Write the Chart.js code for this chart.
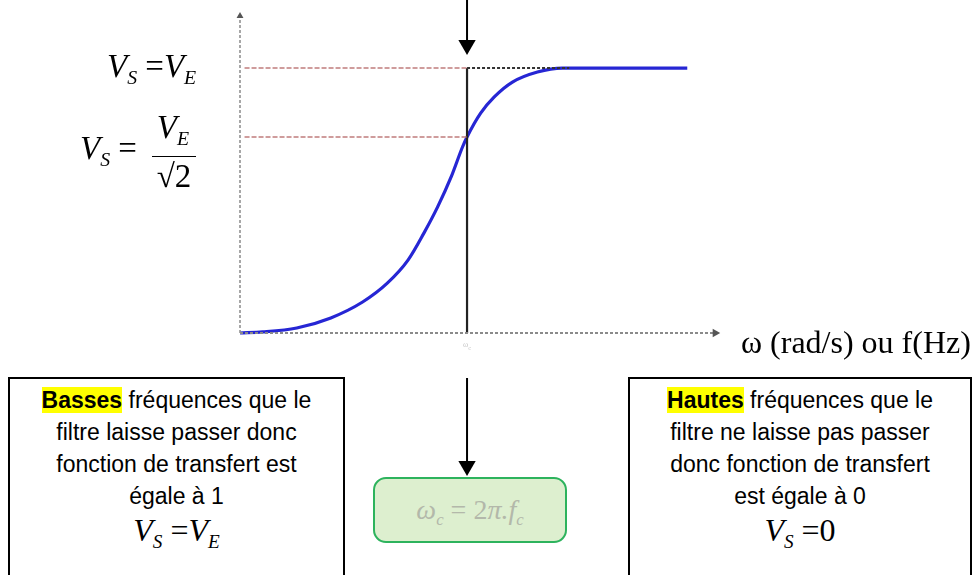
<!DOCTYPE html>
<html>
<head>
<meta charset="utf-8">
<script src="https://cdn.jsdelivr.net/npm/chart.js"></script>
<style>
  body { margin: 0; background: #fff; }
  #wrap { position: relative; width: 978px; height: 575px; overflow: hidden; }
  #wrap canvas { position: absolute; left: 0; top: 0; }
  .math { position: absolute; font-family: "Liberation Serif", "Times New Roman", serif; font-style: italic; color: #000; white-space: nowrap; }
  .math sub { font-size: 0.6em; vertical-align: -0.35em; }
  .math .up { font-style: normal; }
  .box { position: absolute; border: 2px solid #000; background: #fff; text-align: center;
         font-family: "Liberation Sans Narrow", "Liberation Sans", sans-serif; font-size: 23px; line-height: 32px; }
  .hl { background: #ffff00; font-weight: bold; }
  .box .math { position: static; display: block; font-size: 32px; line-height: 36px; margin-top: 0px; }
  #wc { position: absolute; left: 373px; top: 477px; width: 190px; height: 62px; border: 2px solid #2db35d;
        border-radius: 13px; background: #ddefcf; }
  #wc .math { position: static; display: block; text-align: center; color: #b3b8aa; font-size: 28px; line-height: 62px; }
</style>
</head>
<body>
<div id="wrap">
  <canvas id="filtre" width="978" height="575"></canvas>

  <div class="math" style="left:107px; top:48px; font-size:33px;">V<sub>S</sub> <span class="up">=</span>V<sub>E</sub></div>
  <div class="math" style="left:80px; top:130px; font-size:33px;">V<sub>S</sub> <span class="up">=</span></div>
  <div class="math" style="left:150px; top:109px; font-size:33px; text-align:center;">
    <div style="line-height:36px;">V<sub>E</sub></div>
    <div style="border-top:1.5px solid #000; width:44px; margin-left:2px; line-height:38px; font-style:normal;">&radic;2</div>
  </div>
  <div style="position:absolute; left:463px; top:340px; font:8px 'Liberation Serif', serif; color:#c8c8c8;">&omega;<sub>c</sub></div>
  <div style="position:absolute; left:741px; top:324px; font:32px 'Liberation Serif', 'Times New Roman', serif; color:#000; white-space:nowrap;">&omega; (rad/s) ou f(Hz)</div>

  <div class="box" style="left:8px; top:377px; width:333px; height:220px;">
    <div style="margin-top:5px;"><span class="hl">Basses</span> fréquences que le</div>
    <div>filtre laisse passer donc</div>
    <div>fonction de transfert est</div>
    <div>égale à 1</div>
    <div class="math">V<sub>S</sub> <span class="up">=</span>V<sub>E</sub></div>
  </div>
  <div class="box" style="left:628px; top:377px; width:340px; height:220px;">
    <div style="margin-top:5px;"><span class="hl">Hautes</span> fréquences que le</div>
    <div>filtre ne laisse pas passer</div>
    <div>donc fonction de transfert</div>
    <div>est égale à 0</div>
    <div class="math">V<sub>S</sub> <span class="up">=</span><span class="up">0</span></div>
  </div>
  <div id="wc"><div class="math">&omega;<sub>c</sub> <span class="up">=</span> <span class="up">2</span>&pi;.f<sub>c</sub></div></div>
</div>

<script>
  // courbe : x en unités de wc, y en unités de VE
  const curveX = [0, 0.10, 0.25, 0.40, 0.54, 0.65, 0.74, 0.81, 0.87, 0.93, 0.98, 1.00, 1.06, 1.12, 1.20, 1.31, 1.42, 1.97];
  const curveY = [0, 0.004, 0.019, 0.057, 0.117, 0.189, 0.275, 0.377, 0.475, 0.589, 0.702, 0.740, 0.830, 0.891, 0.947, 0.985, 1.0, 1.0];

  const cutoff = 1;           // wc
  const levelPass = 1;        // VS = VE
  const levelCut = 0.74;      // VS = VE / sqrt(2), as drawn
  const xMax = 2.123;
  const yMin = -0.5547;
  const yMax = 1.219;

  const pts = (xs, ys) => xs.map((x, i) => ({ x: x, y: ys[i] }));

  const line = (data, opts) => Object.assign({
    data: data, showLine: true, fill: false, clip: false,
    pointRadius: 0, borderWidth: 1.5, tension: 0
  }, opts);

  new Chart(document.getElementById("filtre"), {
    type: "scatter",
    data: {
      datasets: [
        // axes
        line(pts([0, 0], [0, 1.196]), { borderColor: "#8a8a8a", borderDash: [3, 2], pointRadius: [0, 4],
          pointStyle: "triangle", pointBackgroundColor: "#555", pointBorderWidth: 0 }),
        line(pts([0, 2.093], [0, 0]), { borderColor: "#8a8a8a", borderDash: [3, 2], borderWidth: 2, pointRadius: [0, 5],
          pointStyle: "triangle", rotation: 90, pointBackgroundColor: "#555", pointBorderWidth: 0 }),
        // niveaux
        line(pts([0.02, cutoff], [levelPass, levelPass]), { borderColor: "#c07c7c", borderDash: [5, 2] }),
        line(pts([0.02, cutoff], [levelCut, levelCut]), { borderColor: "#c07c7c", borderDash: [5, 2] }),
        line(pts([cutoff, 1.45], [levelPass, levelPass]), { borderColor: "#333", borderDash: [3, 2], borderWidth: 2 }),
        line(pts([cutoff, cutoff], [0, levelPass]), { borderColor: "#222", borderWidth: 2.2 }),
        // flèches verticales
        line(pts([cutoff, cutoff], [1.257, 1.087]), { borderColor: "#000", borderWidth: 2, pointRadius: [0, 10],
          pointStyle: "triangle", rotation: 180, pointBackgroundColor: "#000", pointBorderWidth: 0 }),
        line(pts([cutoff, cutoff], [-0.170, -0.502]), { borderColor: "#000", borderWidth: 2, pointRadius: [0, 10],
          pointStyle: "triangle", rotation: 180, pointBackgroundColor: "#000", pointBorderWidth: 0 }),
        // réponse du filtre
        line(pts(curveX, curveY), { borderColor: "#2626d4", borderWidth: 3.2, tension: 0.4, cubicInterpolationMode: "monotone" })
      ]
    },
    options: {
      responsive: false,
      animation: false,
      layout: { padding: { left: 240, right: 256, top: 10, bottom: 95 } },
      plugins: { legend: { display: false }, tooltip: { enabled: false } },
      scales: {
        x: { type: "linear", min: 0, max: xMax, display: false },
        y: { type: "linear", min: yMin, max: yMax, display: false }
      }
    }
  });
</script>
</body>
</html>
